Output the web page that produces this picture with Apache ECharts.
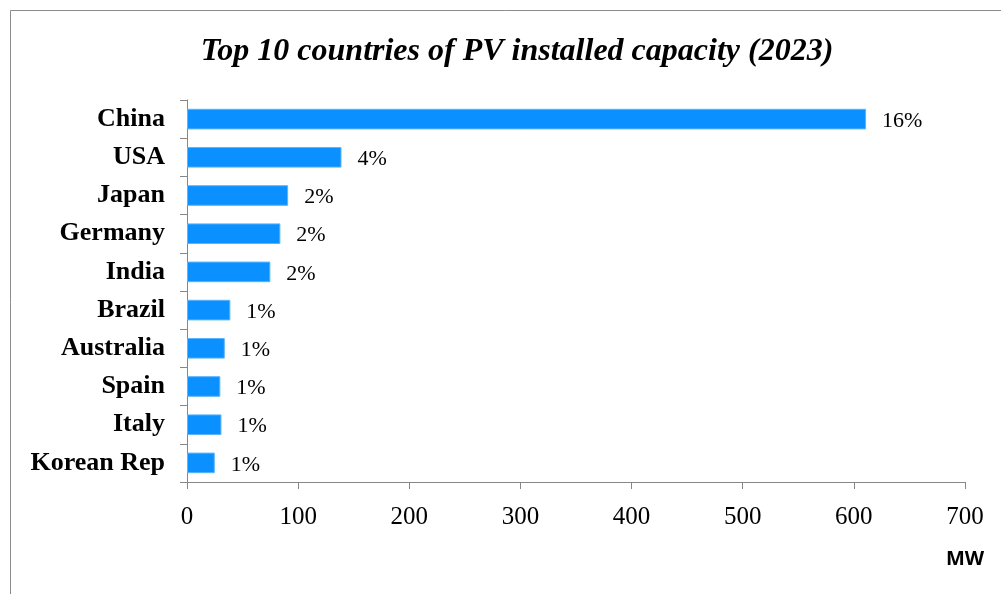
<!DOCTYPE html>
<html>
<head>
<meta charset="utf-8">
<style>
  html, body { margin: 0; padding: 0; background: #fff; }
  #chart { width: 1001px; height: 594px; }
</style>
<script src="https://cdn.jsdelivr.net/npm/echarts@6/dist/echarts.min.js"></script>
</head>
<body>
<div id="chart"></div>
<script>
// Installed photovoltaic capacity by country, 2023
const countries = ['China', 'USA', 'Japan', 'Germany', 'India', 'Brazil', 'Australia', 'Spain', 'Italy', 'Korean Rep'];
const capacity = [611, 139, 91, 84, 75, 39, 34, 30, 31, 25];
const shareLabels = ['16%', '4%', '2%', '2%', '2%', '1%', '1%', '1%', '1%', '1%'];
const xTicks = { min: 0, max: 700, interval: 100 };

const serif = '"Liberation Serif", "Times New Roman", serif';
const axisGray = '#878787';

const chart = echarts.init(document.getElementById('chart'), null, { renderer: 'canvas' });

chart.setOption({
  backgroundColor: '#ffffff',
  animation: false,
  title: {
    text: 'Top 10 countries of PV installed capacity (2023)',
    left: 512,
    textAlign: 'center',
    top: 31,
    textStyle: {
      fontFamily: serif,
      fontStyle: 'italic',
      fontWeight: 'bold',
      fontSize: 32,
      color: '#000'
    }
  },
  graphic: [
    {
      type: 'polyline',
      shape: { points: [[10.5, 594], [10.5, 10.5], [1001, 10.5]] },
      style: { stroke: '#8c8c8c', lineWidth: 1, fill: null },
      silent: true
    },
    {
      type: 'text',
      left: 946,
      top: 549,
      style: {
        text: 'MW',
        fontFamily: '"Open Sans", "DejaVu Sans", sans-serif',
        fontWeight: 'bold',
        fontSize: 20,
        fill: '#000'
      }
    }
  ],
  grid: { left: 187, right: 36, top: 100, bottom: 112, containLabel: false },
  xAxis: {
    type: 'value',
    min: xTicks.min,
    max: xTicks.max,
    interval: xTicks.interval,
    splitLine: { show: false },
    axisLine: { show: true, lineStyle: { color: axisGray, width: 1 } },
    axisTick: { show: true, length: 7, lineStyle: { color: axisGray } },
    axisLabel: {
      margin: 23,
      fontFamily: serif,
      fontSize: 25,
      color: '#000'
    }
  },
  yAxis: {
    type: 'category',
    data: countries,
    inverse: true,
    axisLine: { show: true, lineStyle: { color: axisGray, width: 1 } },
    axisTick: { show: true, length: 7, alignWithLabel: false, lineStyle: { color: axisGray } },
    axisLabel: {
      margin: 22,
      fontFamily: serif,
      fontWeight: 'bold',
      fontSize: 26,
      color: '#000',
      padding: [3, 0, 0, 0]
    }
  },
  series: [{
    type: 'bar',
    data: capacity,
    barCategoryGap: '46%',
    itemStyle: {
      color: '#0a91ff',
      borderColor: '#5bb4ff',
      borderWidth: 1
    },
    label: {
      show: true,
      position: 'right',
      distance: 16,
      fontFamily: serif,
      fontSize: 22,
      color: '#000',
      offset: [0, 2],
      formatter: p => shareLabels[p.dataIndex]
    }
  }]
});
</script>
</body>
</html>
